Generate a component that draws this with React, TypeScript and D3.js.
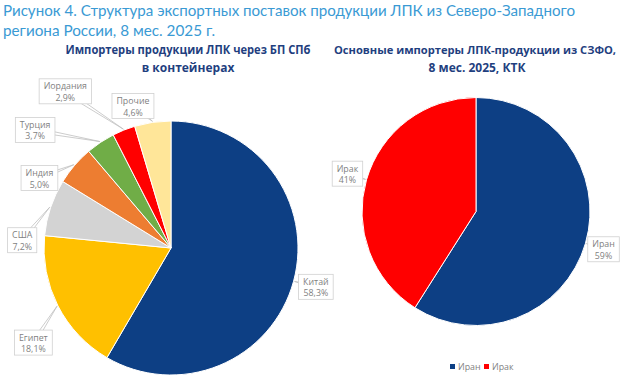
import React from "react";
import * as d3 from "d3";

// ---------- data ----------
const figureTitle = [
  "Рисунок 4. Структура экспортных поставок продукции ЛПК из Северо-Западного",
  "региона России, 8 мес. 2025 г.",
];
const leftTitle = ["Импортеры продукции ЛПК через БП СПб", "в контейнерах"];
const rightTitle = ["Основные импортеры ЛПК-продукции из СЗФО,", "8 мес. 2025, КТК"];

const leftCategories = ["Китай", "Египет", "США", "Индия", "Турция", "Иордания", "Прочие"];
const leftValues = [58.3, 18.1, 7.2, 5.0, 3.7, 2.9, 4.6];
const leftColors = ["#0D3F84", "#FFC000", "#D3D3D3", "#ED7D31", "#70AD47", "#FF0000", "#FFE699"];

const rightCategories = ["Иран", "Ирак"];
const rightValues = [59, 41];
const rightColors = ["#0D3F84", "#FF0000"];

// ---------- layout ----------
const W = 623;
const H = 377;
const leftPie = { cx: 171, cy: 248, r: 127 };
const rightPie = { cx: 476, cy: 211.5, r: 114 };
// label centre placement: angle (deg, clockwise from 12 o'clock) and distance from pie centre
const leftLabelPlacement = [
  { a: 105, d: 150 },
  { a: 235.5, d: 167 },
  { a: 273, d: 149 },
  { a: 298, d: 149 },
  { a: 311, d: 180 },
  { a: 326, d: 189 },
  { a: 345, d: 147 },
];
const rightLabelPlacement = [
  { a: 106.5, d: 133 },
  { a: 286.4, d: 134 },
];

const labelFont = "'Open Sans', sans-serif";
const labelSize = 8.8;

let ctx: CanvasRenderingContext2D | null = null;
function measure(text: string, font: string) {
  if (!ctx) ctx = document.createElement("canvas").getContext("2d");
  if (!ctx) return text.length * 5;
  ctx.font = font;
  return ctx.measureText(text).width;
}

const fmtLeft = (v: number) => d3.format(".1f")(v).replace(".", ",") + "%";
const fmtRight = (v: number) => d3.format(".0f")(v) + "%";

type PieCfg = { cx: number; cy: number; r: number };

function PieChart({
  cfg,
  cats,
  values,
  colors,
  placement,
  fmt,
}: {
  cfg: PieCfg;
  cats: string[];
  values: number[];
  colors: string[];
  placement: { a: number; d: number }[];
  fmt: (v: number) => string;
}) {
  const pie = d3.pie<number>().sort(null).value((d) => d);
  const arcs = pie(values);
  const arc = d3.arc<d3.PieArcDatum<number>>().innerRadius(0).outerRadius(cfg.r);
  const font = `${labelSize}px ${labelFont}`;
  return (
    <g>
      {arcs.map((a, i) => (
        <path
          key={i}
          d={arc(a) || ""}
          transform={`translate(${cfg.cx},${cfg.cy})`}
          fill={colors[i]}
          stroke="#fff"
          strokeWidth={1}
        />
      ))}
      {arcs.map((a, i) => {
        const p = placement[i];
        const ang = (p.a * Math.PI) / 180;
        const bx = cfg.cx + p.d * Math.sin(ang);
        const by = cfg.cy - p.d * Math.cos(ang);
        const mid = (a.startAngle + a.endAngle) / 2;
        const tx = cfg.cx + (cfg.r + 1) * Math.sin(mid);
        const ty = cfg.cy - (cfg.r + 1) * Math.cos(mid);
        const dx = tx - bx;
        const dy = ty - by;
        const len = Math.hypot(dx, dy) || 1;
        const nx = -dy / len;
        const ny = dx / len;
        const hw = 2.2;
        const wedge = `${bx + nx * hw},${by + ny * hw} ${tx},${ty} ${bx - nx * hw},${by - ny * hw}`;
        const t1 = cats[i];
        const t2 = fmt(values[i]);
        const tw = Math.max(measure(t1, font), measure(t2, font));
        const bw = tw + 9;
        const bh = 25;
        return (
          <g key={"l" + i}>
            <polygon points={wedge} fill="#fff" stroke="#BFBFBF" strokeWidth={0.8} />
            <rect
              x={bx - bw / 2}
              y={by - bh / 2}
              width={bw}
              height={bh}
              fill="#fff"
              stroke="#D0D0D0"
              strokeWidth={0.8}
            />
            <text
              x={bx}
              y={by - 2}
              textAnchor="middle"
              fontFamily={labelFont}
              fontSize={labelSize}
              fill="#7F7F7F"
            >
              {t1}
            </text>
            <text
              x={bx}
              y={by + 9.5}
              textAnchor="middle"
              fontFamily={labelFont}
              fontSize={labelSize}
              fill="#7F7F7F"
            >
              {t2}
            </text>
          </g>
        );
      })}
    </g>
  );
}

export default function App() {
  const titleFont = "Lato, 'Open Sans', sans-serif";
  const chartTitleFont = "'Open Sans', sans-serif";
  const legendX = 450;
  return (
    <svg
      width={W}
      height={H}
      style={{ position: "absolute", left: 0, top: 0, background: "#fff" }}
    >
      <rect width={W} height={H} fill="#fff" />
      <text x={3} y={16} fontFamily={titleFont} fontSize={16} fill="#3A9AD4" textLength={572} lengthAdjust="spacingAndGlyphs">
        {figureTitle[0]}
      </text>
      <text x={3} y={36} fontFamily={titleFont} fontSize={16} fill="#3A9AD4" textLength={212} lengthAdjust="spacingAndGlyphs">
        {figureTitle[1]}
      </text>

      <text x={188} y={54} textAnchor="middle" fontFamily={chartTitleFont} fontWeight={700} fontSize={12} fill="#1F3F7F" textLength={245} lengthAdjust="spacingAndGlyphs">
        {leftTitle[0]}
      </text>
      <text x={188} y={72} textAnchor="middle" fontFamily={chartTitleFont} fontWeight={700} fontSize={12} fill="#1F3F7F">
        {leftTitle[1]}
      </text>
      <text x={475} y={54} textAnchor="middle" fontFamily={chartTitleFont} fontWeight={700} fontSize={11.4} fill="#1F3F7F" textLength={282} lengthAdjust="spacingAndGlyphs">
        {rightTitle[0]}
      </text>
      <text x={477} y={72} textAnchor="middle" fontFamily={chartTitleFont} fontWeight={700} fontSize={12} fill="#1F3F7F">
        {rightTitle[1]}
      </text>

      <PieChart
        cfg={leftPie}
        cats={leftCategories}
        values={leftValues}
        colors={leftColors}
        placement={leftLabelPlacement}
        fmt={fmtLeft}
      />
      <PieChart
        cfg={rightPie}
        cats={rightCategories}
        values={rightValues}
        colors={rightColors}
        placement={rightLabelPlacement}
        fmt={fmtRight}
      />

      {rightCategories.map((c, i) => {
        const x = legendX + i * 34;
        return (
          <g key={c}>
            <rect x={x} y={364} width={5} height={5} fill={rightColors[i]} />
            <text x={x + 8} y={370} fontFamily={labelFont} fontSize={8.8} fill="#7F7F7F">
              {c}
            </text>
          </g>
        );
      })}
    </svg>
  );
}
